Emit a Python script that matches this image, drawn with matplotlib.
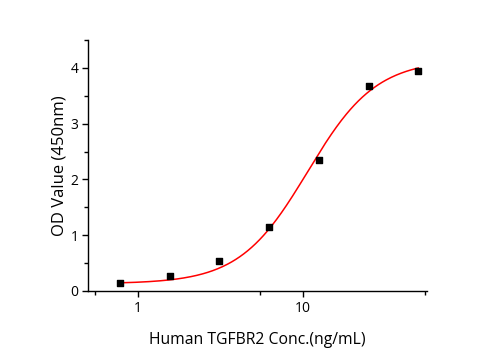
import numpy as np
import matplotlib
matplotlib.use("Agg")
import matplotlib.pyplot as plt
from matplotlib.ticker import FixedLocator, NullFormatter, FixedFormatter

conc = [0.78, 1.5625, 3.125, 6.25, 12.5, 25.0, 50.0]
od = [0.14, 0.27, 0.54, 1.15, 2.35, 3.68, 3.95]
# 4-parameter logistic fit curve (bottom, slope, EC50, top)
fit_bottom, fit_slope, fit_ec50, fit_top = 0.13, 2.1, 10.7, 4.15
x_major = [1, 10]
x_major_labels = ["1", "10"]
x_minor = [0.55, 5.5, 55]
y_major = [0, 1, 2, 3, 4]
y_minor = [0.5, 1.5, 2.5, 3.5, 4.5]


def fourpl(x):
    return fit_top + (fit_bottom - fit_top) / (1.0 + (x / fit_ec50) ** fit_slope)


fig = plt.figure(figsize=(4.95, 3.5), dpi=100)
ax = fig.add_axes([0.1778, 0.1686, 0.8626 - 0.1778, 0.8857 - 0.1686])

xs = np.logspace(np.log10(min(conc)), np.log10(max(conc)), 300)
ax.plot(xs, fourpl(xs), color="#ff0000", lw=1.1, zorder=2)
ax.scatter(conc, od, marker="s", s=22, color="black", zorder=3)

ax.set_xscale("log")
ax.set_xlim(0.5, 56.5)
ax.set_ylim(0, 4.5)

ax.xaxis.set_major_locator(FixedLocator(x_major))
ax.xaxis.set_major_formatter(FixedFormatter(x_major_labels))
ax.xaxis.set_minor_locator(FixedLocator(x_minor))
ax.xaxis.set_minor_formatter(NullFormatter())
ax.yaxis.set_major_locator(FixedLocator(y_major))
ax.yaxis.set_minor_locator(FixedLocator(y_minor))

for s in ["top", "right"]:
    ax.spines[s].set_visible(False)
for s in ["left", "bottom"]:
    ax.spines[s].set_linewidth(1.0)

ax.tick_params(which="major", direction="out", length=4, width=1, labelsize=10, pad=3)
ax.tick_params(which="minor", direction="out", length=3, width=1)

fam = ["Open Sans", "DejaVu Sans"]
for lab in ax.get_xticklabels() + ax.get_yticklabels():
    lab.set_fontfamily(fam)

ax.set_xlabel("Human TGFBR2 Conc.(ng/mL)", fontsize=11.3, family=fam, labelpad=12)
ax.set_ylabel("OD Value (450nm)", fontsize=12, family=fam, labelpad=2)

fig.savefig("out.png", dpi=100)
